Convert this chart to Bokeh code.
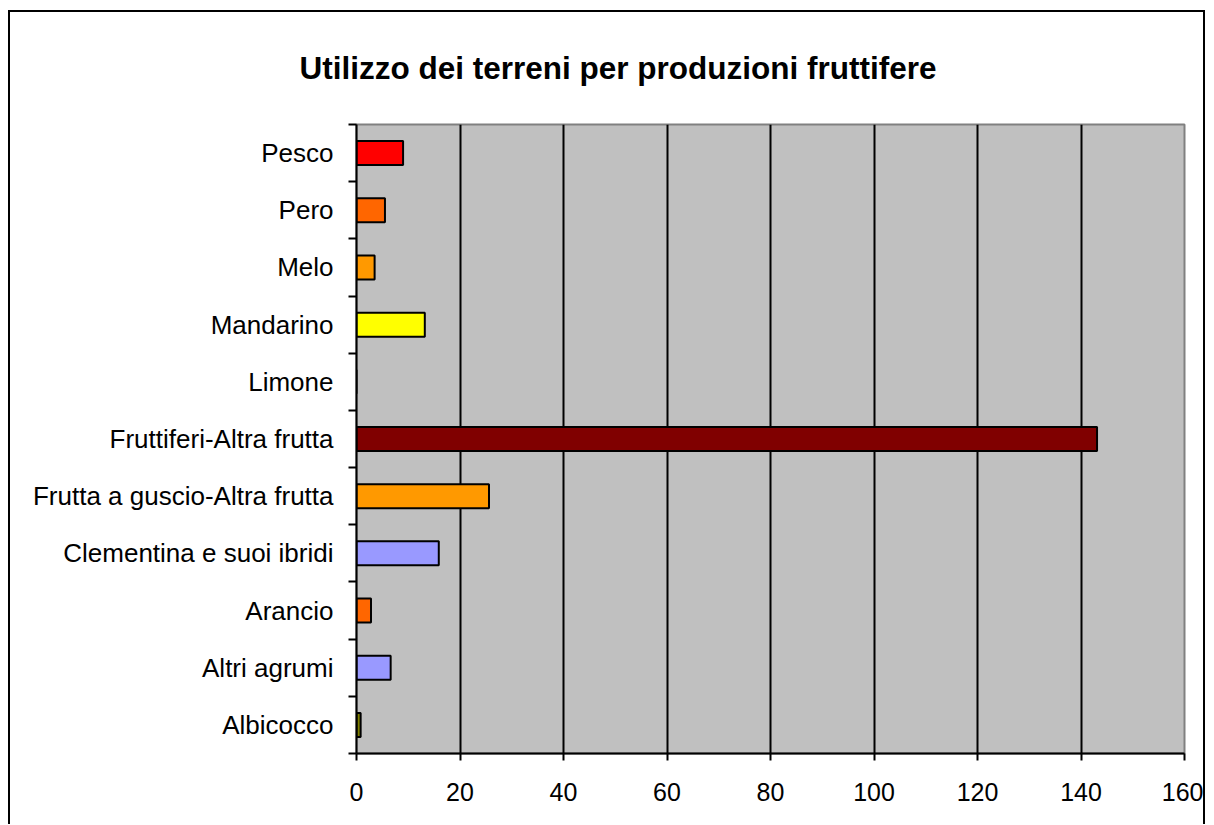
from bokeh.plotting import figure
from bokeh.models import FixedTicker, Range1d, ColumnDataSource
from bokeh.embed import file_html
from bokeh.resources import INLINE

categories = ["Albicocco", "Altri agrumi", "Arancio", "Clementina e suoi ibridi",
              "Frutta a guscio-Altra frutta", "Fruttiferi-Altra frutta", "Limone",
              "Mandarino", "Melo", "Pero", "Pesco"]
values = [0.8, 6.6, 2.8, 15.9, 25.6, 143.1, 0.0, 13.2, 3.5, 5.5, 9.0]
colors = ["#808000", "#9999FF", "#FF6600", "#9999FF", "#FF9900", "#800000",
          "#FFFF00", "#FFFF00", "#FF9900", "#FF6600", "#FF0000"]
x_ticks = [0, 20, 40, 60, 80, 100, 120, 140, 160]
title_text = "Utilizzo dei terreni per produzioni fruttifere"

pos = [i + 0.5 for i in range(len(categories))]
src = ColumnDataSource(dict(y=pos, right=values, color=colors, name=categories))

p = figure(frame_width=828, frame_height=629, output_backend="svg", toolbar_location=None,
           x_range=Range1d(0, 160), y_range=Range1d(0, len(categories)),
           min_border_left=346, min_border_right=19, min_border_top=111, min_border_bottom=71,
           background_fill_color="#C0C0C0", border_fill_color="white")
p.styles = {"border-top": "2px solid black", "border-left": "2px solid black",
            "border-right": "2px solid black", "margin-top": "10px", "margin-left": "8px"}

p.hbar(y="y", left=0, right="right", height=0.42, fill_color="color",
       line_color="black", line_width=2, source=src)

p.title.text = title_text
p.title.text_font = "Liberation Sans"
p.title.text_font_size = "31.5px"
p.title.text_font_style = "bold"
p.title.text_color = "black"
p.title.align = "left"
p.title.vertical_align = "top"
p.title.offset = -57
p.title.standoff = 74

p.outline_line_color = "#808080"
p.outline_line_width = 2

# x axis
xa = p.xaxis[0]
xa.ticker = FixedTicker(ticks=x_ticks)
xa.axis_line_color = "black"
xa.axis_line_width = 2
xa.major_tick_line_color = "black"
xa.major_tick_line_width = 2
xa.major_tick_out = 7
xa.major_tick_in = 0
xa.minor_tick_line_color = None
xa.major_label_text_font = "Liberation Sans"
xa.major_label_text_font_size = "25px"
xa.major_label_text_color = "black"
xa.major_label_standoff = 22

# y axis: labels at centers, ticks at boundaries
ya = p.yaxis[0]
ya.ticker = FixedTicker(ticks=pos, minor_ticks=list(range(len(categories) + 1)))
ya.major_label_overrides = {pp: c for pp, c in zip(pos, categories)}
ya.axis_line_color = "black"
ya.axis_line_width = 2
ya.major_tick_line_color = None
ya.major_tick_out = 0
ya.major_tick_in = 0
ya.minor_tick_line_color = "black"
ya.minor_tick_line_width = 2
ya.minor_tick_out = 8
ya.minor_tick_in = 0
ya.major_label_text_font = "Liberation Sans"
ya.major_label_text_font_size = "26px"
ya.major_label_text_color = "black"
ya.major_label_standoff = 15

p.xgrid.ticker = FixedTicker(ticks=x_ticks[1:-1])
p.xgrid.grid_line_color = "black"
p.xgrid.grid_line_width = 2
p.ygrid.grid_line_color = None

open("out.html", "w").write(file_html(p, INLINE))
